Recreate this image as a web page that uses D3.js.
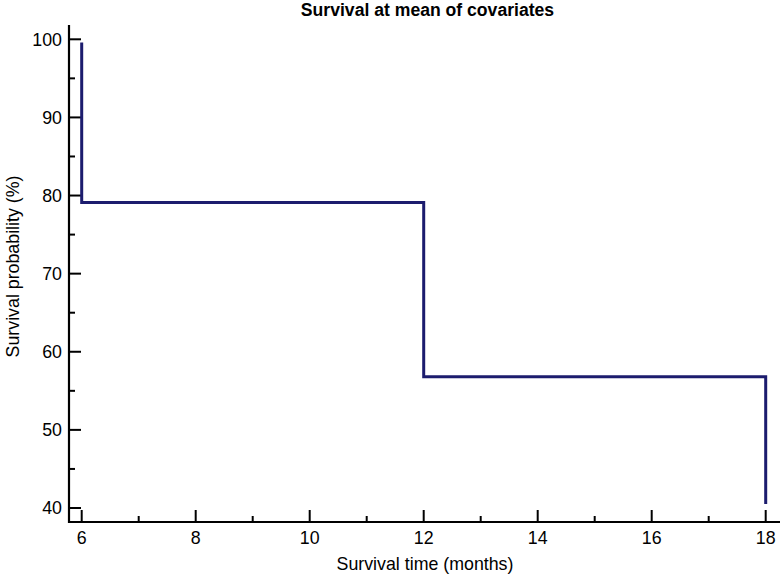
<!DOCTYPE html>
<html><head><meta charset="utf-8">
<script src="https://cdn.jsdelivr.net/npm/d3@7"></script>
<style>body{margin:0;background:#fff}svg{display:block}text{font-family:"Liberation Sans",Arial,sans-serif}</style>
</head><body><svg id="c" width="780" height="576"></svg>
<script>
const times = [6, 6, 12, 12, 18, 18];
const survival = [99.6, 79.1, 79.1, 56.8, 56.8, 40.5];
const xTicks = [6, 8, 10, 12, 14, 16, 18];
const xMinor = [7, 9, 11, 13, 15, 17];
const yTicks = [40, 50, 60, 70, 80, 90, 100];
const yMinor = [45, 55, 65, 75, 85, 95];

const svg = d3.select("#c");
const axL = 69, axR = 780, axT = 25, axB = 522;
const x = d3.scaleLinear().domain([6, 18]).range([81.7, 765.7]);
const y = d3.scaleLinear().domain([40, 100]).range([508, 39.3]);

// axes lines
svg.append("line").attr("x1", axL).attr("x2", axL).attr("y1", axT).attr("y2", axB + 1)
  .attr("stroke", "#000").attr("stroke-width", 2.2);
svg.append("line").attr("x1", axL - 1).attr("x2", axR).attr("y1", axB).attr("y2", axB)
  .attr("stroke", "#000").attr("stroke-width", 2.2);

// y ticks (inward)
svg.selectAll(".yt").data(yTicks).join("line")
  .attr("x1", axL).attr("x2", axL + 12).attr("y1", d => y(d)).attr("y2", d => y(d))
  .attr("stroke", "#000").attr("stroke-width", 2);
svg.selectAll(".ym").data(yMinor).join("line")
  .attr("x1", axL).attr("x2", axL + 6).attr("y1", d => y(d)).attr("y2", d => y(d))
  .attr("stroke", "#000").attr("stroke-width", 2);
svg.selectAll(".yl").data(yTicks).join("text")
  .attr("x", 62).attr("y", d => y(d)).attr("dy", "0.35em").attr("text-anchor", "end")
  .attr("font-size", 17.8).text(d => d);

// x ticks (inward)
svg.selectAll(".xt").data(xTicks).join("line")
  .attr("x1", d => x(d)).attr("x2", d => x(d)).attr("y1", axB).attr("y2", axB - 12)
  .attr("stroke", "#000").attr("stroke-width", 2);
svg.selectAll(".xm").data(xMinor).join("line")
  .attr("x1", d => x(d)).attr("x2", d => x(d)).attr("y1", axB).attr("y2", axB - 6)
  .attr("stroke", "#000").attr("stroke-width", 2);
svg.selectAll(".xl").data(xTicks).join("text")
  .attr("x", d => x(d)).attr("y", 543.5).attr("text-anchor", "middle")
  .attr("font-size", 17.8).text(d => d);

// titles
svg.append("text").attr("x", 427.5).attr("y", 16).attr("text-anchor", "middle")
  .attr("font-size", 17.6).attr("font-weight", "bold").text("Survival at mean of covariates");
svg.append("text").attr("x", 425).attr("y", 570).attr("text-anchor", "middle")
  .attr("font-size", 17.8).text("Survival time (months)");
svg.append("text").attr("transform", "translate(19,266.5) rotate(-90)").attr("text-anchor", "middle")
  .attr("font-size", 17.8).text("Survival probability (%)");

// curve
const pts = times.map((t, i) => [t, survival[i]]);
svg.append("path").datum(pts)
  .attr("d", d3.line().x(d => x(d[0])).y(d => y(d[1])))
  .attr("fill", "none").attr("stroke", "#1c1c6e").attr("stroke-width", 3);
</script></body></html>
